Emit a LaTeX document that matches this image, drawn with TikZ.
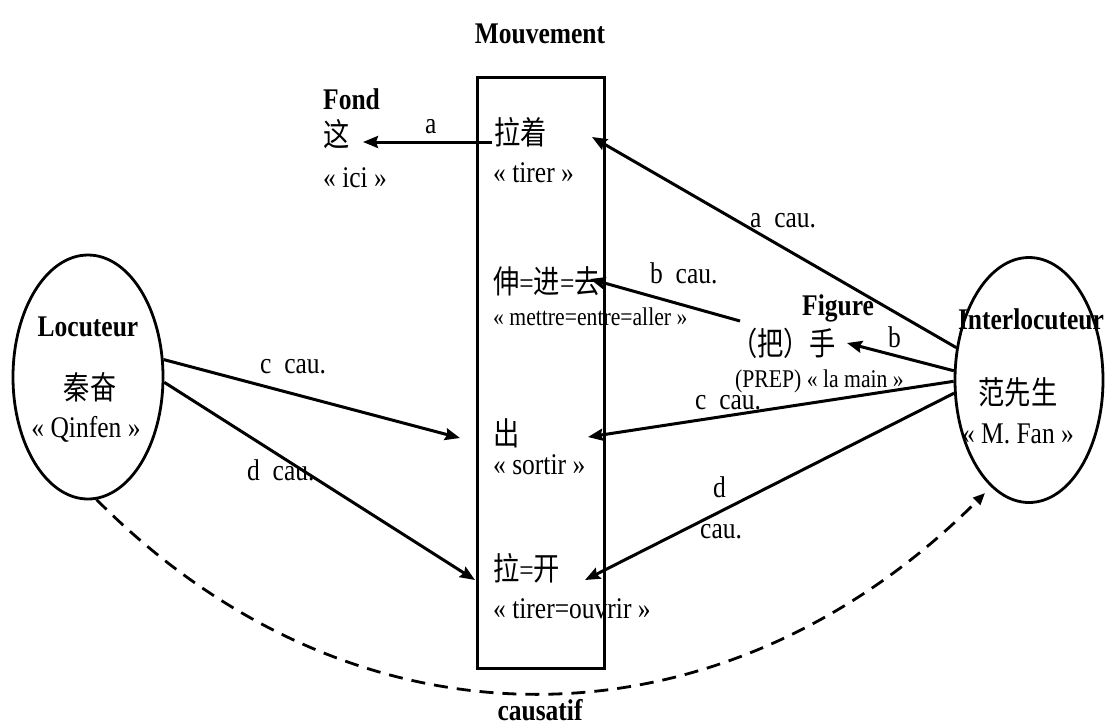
\documentclass[tikz,border=0pt]{standalone}
\usepackage{fontspec}
\setmainfont{Liberation Serif}[FakeStretch=0.85]
\newfontfamily\cjk{Noto Sans CJK SC}[FakeStretch=0.82]
\usetikzlibrary{arrows.meta,shapes.geometric}
\newcommand\zht[1]{{\fontsize{32}{36}\selectfont\cjk #1}}
\tikzset{
  txt/.style={inner sep=0pt, font=\fontsize{30}{34}\selectfont},
  smalltxt/.style={inner sep=0pt, font=\fontsize{25.5}{30}\selectfont},
  boldtxt/.style={inner sep=0pt, font=\fontsize{30}{34}\selectfont\bfseries},
  lab/.style={inner sep=0pt, font=\fontsize{30}{34}\selectfont, anchor=base west},
  conn/.style={line width=3pt, -{Stealth[length=15pt,width=12pt,inset=2pt]}},
  dashconn/.style={line width=2.8pt, dash pattern=on 14pt off 9pt, -{Triangle[length=12pt,width=10pt]}},
  person/.style={draw, ellipse, line width=2.8pt, inner sep=0pt},
  boxstyle/.style={draw, rectangle, line width=3pt, inner sep=0pt}
}
\begin{document}
\begin{tikzpicture}[x=1pt,y=-1pt]
\useasboundingbox (0,0) rectangle (1105,724);
% frame and persons
\node[boxstyle, minimum width=127pt, minimum height=591pt] (box) at (540.5,372.5) {};
\node[person, minimum width=150pt, minimum height=244pt] (loc) at (88,377) {};
\node[person, minimum width=148pt, minimum height=245pt] (inter) at (1029,380) {};
% texts
\node[boldtxt, anchor=base] (mouv) at (540,43) {Mouvement};
\node[boldtxt, anchor=base west] (fond) at (323,109) {Fond};
\node[txt, anchor=west] (zhe) at (323,134) {\zht{这}};
\node[txt, anchor=base west] (ici) at (323,187) {« ici »};
\node[txt, anchor=west] (lazhe) at (494,132) {\zht{拉着}};
\node[txt, anchor=base west] (tirer) at (493,182) {« tirer »};
\node[txt, anchor=west] (shen) at (493,281) {\zht{伸}=\zht{进}=\zht{去}};
\node[smalltxt, anchor=base west] (mettre) at (493,325) {« mettre=entre=aller »};
\node[boldtxt, anchor=base west] (figure) at (802,315) {Figure};
\node[txt, anchor=west] (shou) at (731,343) {\zht{（把）手}};
\node[smalltxt, anchor=base west] (prep) at (735,387) {(PREP) « la main »};
\node[boldtxt, anchor=base] (interlab) at (1031,329) {Interlocuteur};
\node[txt, anchor=center] (fan) at (1018,392) {\zht{范先生}};
\node[txt, anchor=base] (mfan) at (1018,443) {« M. Fan »};
\node[boldtxt, anchor=base] (loclab) at (88,336) {Locuteur};
\node[txt, anchor=center] (qin) at (90,387) {\zht{秦奋}};
\node[txt, anchor=base] (qinfen) at (86,437) {« Qinfen »};
\node[txt, anchor=west] (chu) at (493,433) {\zht{出}};
\node[txt, anchor=base west] (sortir) at (493,474) {« sortir »};
\node[txt, anchor=west] (lakai) at (493,568) {\zht{拉}=\zht{开}};
\node[txt, anchor=base west] (ouvrir) at (493,618) {« tirer=ouvrir »};
\node[boldtxt, anchor=base] (caus) at (540,720) {causatif};
% connector end points
\coordinate (ta0) at (492,142);
\coordinate (ta) at (363,142);
\coordinate (tacau) at (592,137);
\coordinate (bs) at (740,321);
\coordinate (tbcau) at (590,279);
\coordinate (tb) at (847,343);
\coordinate (tc) at (588,437);
\coordinate (td) at (585,580);
\coordinate (tcl) at (460,438);
\coordinate (tdl) at (475,580);
\coordinate (cend) at (985,493);
% connectors
\draw[conn] (ta0) -- (ta);
\draw[conn] (inter.156.6) -- (tacau);
\draw[conn] (bs) -- (tbcau);
\draw[conn] (inter.173.7) -- (tb);
\draw[conn] (inter.181.6) -- (tc);
\draw[conn] (inter.190) -- (td);
\draw[conn] (loc.13.5) -- (tcl);
\draw[conn] (loc.356) -- (tdl);
\draw[dashconn] (loc.274.5) .. controls (359,764) and (724,754) .. (cend);
% labels
\node[lab] (la) at (425,133) {a};
\node[lab] (lacau) at (750,227) {a~~cau.};
\node[lab] (lbcau) at (650,283) {b~~cau.};
\node[lab] (lb) at (888,347) {b};
\node[lab] (lccau) at (695,409) {c~~cau.};
\node[lab] (lccaul) at (260,373) {c~~cau.};
\node[lab] (ldcaul) at (247,480) {d~~cau.};
\node[lab] (ld) at (713,497) {d};
\node[lab] (ldcau) at (700,538) {cau.};
\end{tikzpicture}
\end{document}
